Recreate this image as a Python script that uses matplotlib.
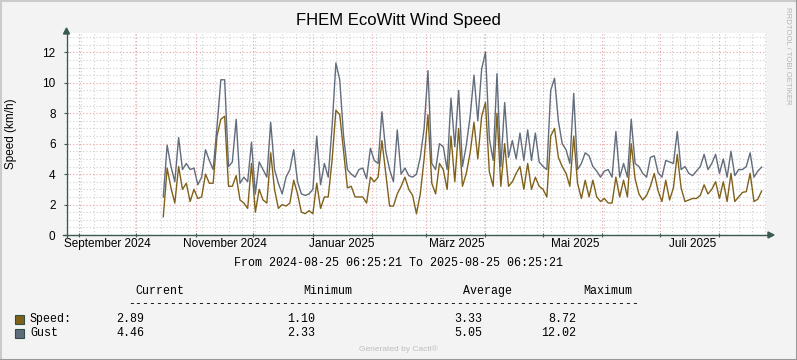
import numpy as np
import pandas as pd
import matplotlib
matplotlib.use("Agg")
import matplotlib.pyplot as plt
from matplotlib.patches import Rectangle, Polygon
from matplotlib.lines import Line2D
from matplotlib.ticker import MultipleLocator

W, H = 797, 360
plt.rcParams["font.family"] = ["Liberation Sans", "DejaVu Sans"]

# samples every 2 days
first_sample = "2024-10-15 00:00"
speed = [1.2, 4.4, 3.1, 2.1, 4.5, 3.0, 3.4, 2.2, 3.0, 2.4,
         2.5, 4.0, 3.4, 3.4, 6.5, 7.6, 7.8, 3.2, 3.2, 3.9,
         2.3, 2.1, 1.75, 4.7, 1.5, 3.0, 2.3, 2.1, 5.4, 3.0,
         1.75, 2.0, 1.9, 2.1, 3.6, 2.7, 1.5, 1.4, 1.6, 1.4,
         3.4, 1.75, 2.5, 2.5, 4.9, 8.2, 7.9, 5.5, 3.1, 3.2,
         2.5, 2.5, 2.5, 2.1, 3.8, 3.5, 3.8, 6.2, 4.05, 1.9,
         1.9, 2.7, 3.2, 3.8, 3.0, 2.6, 1.4, 2.7, 5.0, 7.9,
         3.4, 2.7, 4.7, 4.3, 3.0, 6.5, 3.5, 7.0, 3.2, 4.05,
         5.4, 7.4, 5.0, 7.8, 8.7, 4.15, 3.2, 8.0, 3.2, 6.0,
         3.2, 3.5, 4.05, 4.5, 3.0, 4.7, 3.0, 3.8, 3.2, 3.0,
         2.5, 6.5, 7.0, 5.1, 4.5, 4.05, 3.2, 6.5, 3.4, 2.4,
         3.6, 2.5, 3.6, 2.5, 2.2, 2.4, 2.1, 2.1, 3.8, 2.5,
         3.6, 2.5, 6.0, 3.7, 2.7, 2.3, 2.6, 3.2, 4.05, 2.9,
         2.2, 3.6, 2.3, 3.1, 5.3, 3.1, 2.2, 2.3, 2.4, 2.4,
         2.6, 3.3, 2.7, 3.0, 3.5, 2.4, 3.5, 2.2, 4.05, 2.2,
         2.5, 2.8, 2.85, 4.05, 2.2, 2.35, 2.89]
gust = [2.5, 5.9, 4.5, 3.5, 6.4, 4.3, 4.7, 4.3, 4.4, 3.3,
        3.8, 5.6, 4.9, 4.3, 7.1, 10.2, 10.2, 4.5, 4.8, 7.6,
        3.4, 3.8, 3.5, 6.1, 2.7, 4.8, 4.3, 3.8, 7.4, 4.3,
        3.4, 2.7, 3.8, 4.3, 5.6, 3.5, 2.7, 2.6, 2.7, 3.0,
        6.5, 3.3, 4.7, 3.8, 7.1, 11.3, 10.2, 6.5, 4.3, 4.0,
        3.8, 4.3, 4.4, 3.7, 5.7, 4.9, 4.7, 8.1, 5.5, 4.3,
        3.5, 6.9, 4.0, 4.4, 3.9, 3.8, 4.0, 5.1, 7.0, 10.8,
        4.7, 4.3, 6.0, 5.8, 4.3, 9.0, 5.8, 9.5, 4.5, 5.9,
        7.8, 10.5, 7.5, 10.9, 12.02, 6.35, 4.9, 10.6, 4.5, 8.7,
        5.1, 6.2, 5.0, 6.7, 4.9, 6.9, 4.9, 6.7, 4.8, 4.5,
        4.3, 9.5, 10.3, 7.5, 6.0, 5.6, 4.7, 9.3, 4.3, 4.7,
        5.4, 5.2, 4.5, 4.2, 3.8, 4.2, 4.3, 3.8, 6.8, 3.8,
        4.7, 3.8, 7.6, 4.7, 4.5, 4.05, 3.8, 5.1, 5.2, 4.1,
        3.8, 4.9, 4.8, 4.7, 6.8, 4.3, 4.5, 4.05, 3.9, 4.2,
        4.5, 5.3, 4.3, 4.7, 5.3, 4.05, 5.0, 3.8, 5.5, 3.9,
        4.3, 4.3, 4.5, 5.4, 3.8, 4.2, 4.46]

t_start = pd.Timestamp("2024-08-25 06:25:21")
t_end = pd.Timestamp("2025-08-25 06:25:21")

month_labels = ["September 2024", "November 2024", "Januar 2025",
                "März 2025", "Mai 2025", "Juli 2025"]
month_label_dates = ["2024-09-16", "2024-11-16", "2025-01-16",
                     "2025-03-17", "2025-05-18", "2025-07-18"]

legend_names = ["Speed:", "Gust"]
legend_colors = ["#80611A", "#616C7C"]
current = ["2.89", "4.46"]
minimum = ["1.10", "2.33"]
average = ["3.33", "5.05"]
maximum = ["8.72", "12.02"]

dates = pd.date_range(first_sample, periods=len(speed), freq="2D")
month_starts = pd.date_range("2024-09-01", "2025-08-01", freq="MS")
mondays = pd.date_range("2024-08-26", "2025-08-25", freq="W-MON")

axis_c = "#3b5a52"
back = "#F3F3F3"

fig = plt.figure(figsize=(W / 100, H / 100), dpi=100, facecolor=back)


def P(x, y):
    return (x / W, 1 - y / H)


ax = fig.add_axes([66 / W, 1 - 235 / H, 700 / W, 202 / H])
ax.set_facecolor("white")
ax.set_xlim(t_start, t_end)
ax.set_ylim(0, 202 / 15.22)

ax.set_xticks(month_starts)
ax.set_xticks(mondays, minor=True)
ax.yaxis.set_major_locator(MultipleLocator(2))
ax.yaxis.set_minor_locator(MultipleLocator(0.5))
ax.grid(which="minor", color="#cfcfcf", lw=0.8, ls=(0, (1, 2)))
ax.grid(which="major", color="#eba0a0", lw=0.8, ls=(0, (1, 2)))
ax.set_axisbelow(True)
ax.set_xticklabels([])
ax.set_yticks(range(0, 13, 2))
ax.set_yticklabels([str(v) for v in range(0, 13, 2)], fontsize=8.5)
ax.tick_params(which="major", length=3, direction="inout", color=axis_c, pad=6)
ax.tick_params(which="minor", length=0)
for s in ax.spines.values():
    s.set_visible(False)

ax.plot(dates, speed, color=legend_colors[0], lw=1.0, zorder=3)
ax.plot(dates, gust, color=legend_colors[1], lw=1.0, zorder=3)

for lab, d in zip(month_labels, month_label_dates):
    ax.text(pd.Timestamp(d), -0.045, lab, transform=ax.get_xaxis_transform(),
            ha="center", va="center", fontsize=8.5)

# axes with arrows
fig.add_artist(Line2D([P(63, 0)[0], P(768, 0)[0]], [P(0, 235)[1]] * 2,
                      transform=fig.transFigure, color=axis_c, lw=1))
fig.add_artist(Line2D([P(66.5, 0)[0]] * 2, [P(0, 238)[1], P(0, 33)[1]],
                      transform=fig.transFigure, color=axis_c, lw=1))
fig.add_artist(Polygon([P(768, 232), P(768, 238), P(774, 235)], closed=True,
                       transform=fig.transFigure, color=axis_c))
fig.add_artist(Polygon([P(63.5, 34), P(69.5, 34), P(66.5, 28)], closed=True,
                       transform=fig.transFigure, color=axis_c))

fig.text(*P(398, 21), "FHEM EcoWitt Wind Speed", ha="center", va="center",
         fontsize=12)
fig.text(*P(11, 134), "Speed (km/h)", rotation=90, ha="center", va="center",
         fontsize=8.5)
fig.text(*P(787, 56), "RRDTOOL / TOBI OETIKER", rotation=270, ha="center",
         va="center", fontsize=5.6, color="#b5b5b5")

mono = dict(family="Liberation Mono", fontsize=8.4, va="center")
fig.text(*P(398, 263), "From 2024-08-25 06:25:21 To 2025-08-25 06:25:21",
         ha="center", **mono)
for lab, x in zip(["Current", "Minimum", "Average", "Maximum"], [135, 303, 463, 583]):
    fig.text(*P(x, 291), lab, ha="left", **mono)
fig.text(*P(128, 304), "-" * 73, ha="left", **mono)
for k, y in enumerate([319, 333]):
    fig.add_artist(Rectangle(P(15, y + 4.5), 9 / W, 9 / H, transform=fig.transFigure,
                             facecolor=legend_colors[k], edgecolor="#2f4f47", lw=0.8))
    fig.text(*P(30, y), legend_names[k], ha="left", **mono)
    fig.text(*P(116, y), current[k], ha="left", **mono)
    fig.text(*P(287, y), minimum[k], ha="left", **mono)
    fig.text(*P(454, y), average[k], ha="left", **mono)
    fig.text(*P(576, y), maximum[k], ha="right", **mono)

fig.text(*P(398, 349), "Generated by Cacti®", ha="center", va="center",
         fontsize=6, color="#bdbdbd")

# 3d frame round the image
fig.add_artist(Line2D([0, 1], [1 - 0.5 / H] * 2, transform=fig.transFigure, color="#cbcbcb", lw=1.5))
fig.add_artist(Line2D([0.5 / W] * 2, [0, 1], transform=fig.transFigure, color="#cbcbcb", lw=1.5))
fig.add_artist(Line2D([0, 1], [0.5 / H] * 2, transform=fig.transFigure, color="#999999", lw=1.5))
fig.add_artist(Line2D([1 - 0.5 / W] * 2, [0, 1], transform=fig.transFigure, color="#999999", lw=1.5))

fig.savefig("out.png", dpi=100, facecolor=back)
